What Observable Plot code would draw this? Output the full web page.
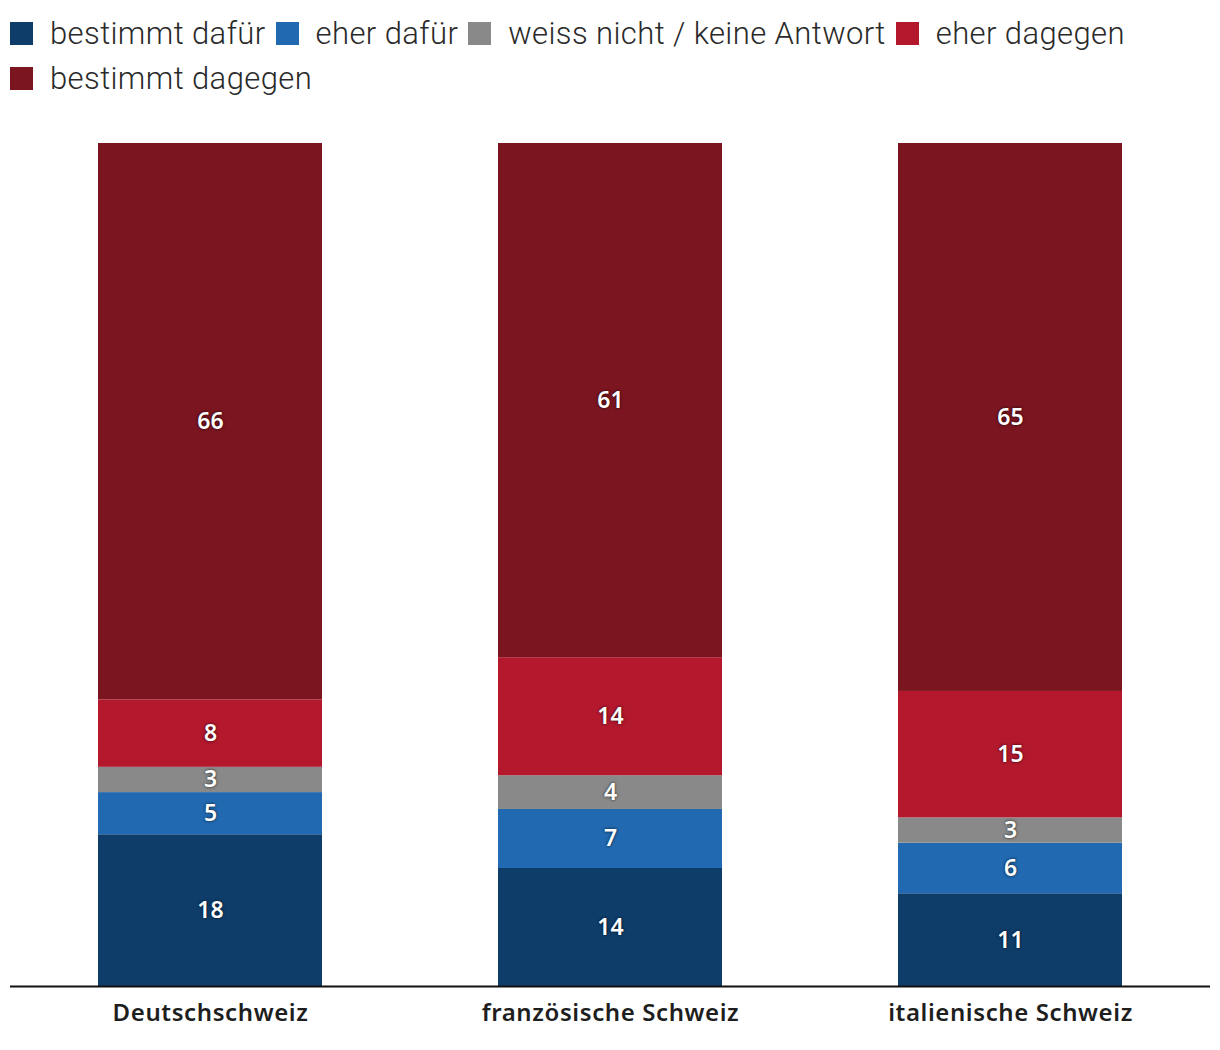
<!DOCTYPE html>
<html>
<head>
<meta charset="utf-8">
<script src="https://cdn.jsdelivr.net/npm/d3@7"></script>
<script src="https://cdn.jsdelivr.net/npm/@observablehq/plot@0.6"></script>
<style>
  body { margin: 0; background: #fff; font-family: Roboto, "Noto Sans", sans-serif; }
  #wrap { position: relative; width: 1220px; height: 1050px; }
  #legend { position: absolute; left: 10px; top: 11px; width: 1200px; display: flex; flex-wrap: wrap; row-gap: 0; }
  .item { display: flex; align-items: center; height: 45px; margin-right: 10px; font-size: 31px; font-weight: 300; letter-spacing: 0.4px; color: #2a2a2a; }
  .sw { width: 23px; height: 23px; margin-right: 17px; }
  #chart { position: absolute; left: 0; top: 110px; }
  .seglabel text { text-shadow: 0 0 3px rgba(0,0,0,0.8); }
  .xax text { letter-spacing: 0.6px; }
</style>
</head>
<body>
<div id="wrap">
  <div id="legend"></div>
  <div id="chart"></div>
</div>
<script>
const regions = ["Deutschschweiz", "französische Schweiz", "italienische Schweiz"];
const series = ["bestimmt dafür", "eher dafür", "weiss nicht / keine Antwort", "eher dagegen", "bestimmt dagegen"];
const colors = ["#0e3d6a", "#2169b0", "#898989", "#b3182d", "#7b1520"];
const bestimmtDafuer = [18, 14, 11];
const eherDafuer = [5, 7, 6];
const weissNicht = [3, 4, 3];
const eherDagegen = [8, 14, 15];
const bestimmtDagegen = [66, 61, 65];

const seriesValues = [bestimmtDafuer, eherDafuer, weissNicht, eherDagegen, bestimmtDagegen];
const data = [];
series.forEach((s, si) => {
  regions.forEach((r, ri) => {
    data.push({region: r, series: s, value: seriesValues[si][ri]});
  });
});

// legend
const legend = document.getElementById("legend");
series.forEach((s, i) => {
  const it = document.createElement("div");
  it.className = "item";
  const sw = document.createElement("div");
  sw.className = "sw";
  sw.style.background = colors[i];
  const tx = document.createElement("span");
  tx.textContent = s;
  it.appendChild(sw);
  it.appendChild(tx);
  legend.appendChild(it);
});

const chart = Plot.plot({
  width: 1220,
  height: 940,
  marginTop: 33,
  marginBottom: 64,
  marginLeft: 10,
  marginRight: 10,
  x: {domain: regions, paddingInner: 0.44, paddingOuter: 0.22, label: null},
  y: {domain: [0, 100], axis: null},
  color: {domain: series, range: colors},
  marks: [
    Plot.barY(data, Plot.stackY({x: "region", y: "value", fill: "series", order: series})),
    Plot.text(data, Plot.stackY({x: "region", y: "value", z: "series", order: series, text: d => String(d.value),
      fill: "white", fontSize: 23, fontWeight: 600, fontFamily: "'Noto Sans', sans-serif", className: "seglabel"})),
    Plot.ruleY([0], {stroke: "#111", strokeWidth: 2}),
    Plot.axisX({tickSize: 0, tickPadding: 17, fontSize: 24, fontWeight: 600, fontFamily: "'Noto Sans', sans-serif", fill: "#1e1e1e", label: null, className: "xax"})
  ],
  style: {fontFamily: "Roboto, 'Noto Sans', sans-serif", background: "white", overflow: "visible"}
});
document.getElementById("chart").appendChild(chart);
</script>
</body>
</html>
